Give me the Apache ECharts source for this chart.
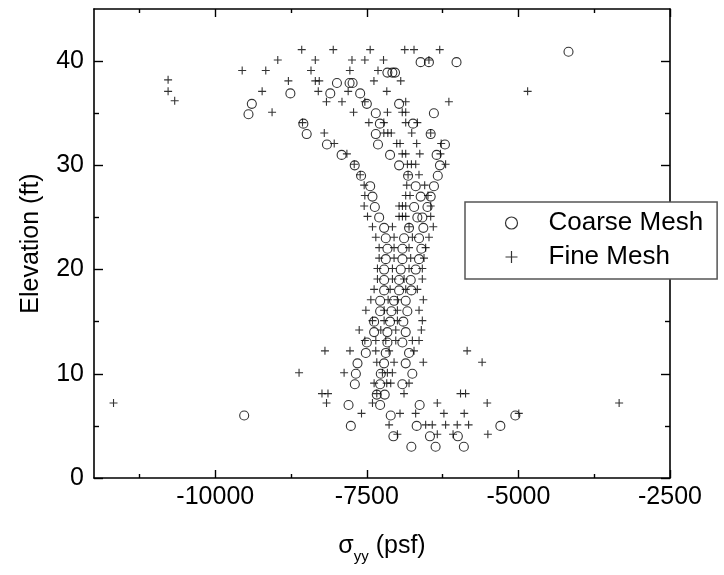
<!DOCTYPE html>
<html><head><meta charset="utf-8">
<script src="https://cdn.jsdelivr.net/npm/echarts@6/dist/echarts.min.js"></script>
<style>html,body{margin:0;padding:0;background:#fff}#c{width:724px;height:575px}</style>
</head><body><div id="c"></div>
<script>
// ---- tick values ----
const xMajorTicks = [-10000, -7500, -5000, -2500];
const xMinorTicks = [-11250, -8750, -6250, -3750];
const yMajorTicks = [0, 10, 20, 30, 40];
const yMinorTicks = [5, 15, 25, 35];

// ---- Coarse Mesh (stress psf, elevation ft) ----
const coarseStress = [
  -4174,
  -6613, -6476, -6021,
  -7161, -7079, -7035,
  -7993, -7785, -7735,
  -8761, -8103, -7610,
  -9397, -7500, -6968,
  -9452, -7352, -6394,
  -8547, -7285, -6739,
  -8492, -7352, -6447,
  -8158, -7316, -6212,
  -7916, -7117, -6349,
  -7700, -6968, -6294,
  -7595, -6820, -6330,
  -7445, -6694, -6393,
  -7407, -6612, -6447,
  -7368, -6720, -6500,
  -7297, -6667, -6585,
  -7215, -6804, -6568,
  -7188, -6886, -6639,
  -7160, -6913, -6601,
  -7188, -6913, -6639,
  -7215, -6941, -6694,
  -7215, -6968, -6776,
  -7215, -6968, -6765,
  -7281, -7051, -6859,
  -7281, -7095, -6832,
  -7380, -7117, -6898,
  -7380, -7161, -6859,
  -7500, -7161, -6914,
  -7517, -7188, -6804,
  -7654, -7216, -6859,
  -7681, -7270, -6750,
  -7698, -7281, -6914,
  -7336, -7205,
  -7802, -7281, -6629,
  -9523, -7106, -5051,
  -7764, -6678, -5298,
  -7062, -6459, -5999,
  -6766, -6366, -5900
];
const coarseElev = [
  40.9,
  39.9, 39.9, 39.9,
  38.9, 38.9, 38.9,
  37.9, 37.9, 37.9,
  36.9, 36.9, 36.9,
  35.9, 35.9, 35.9,
  34.9, 35.0, 35.0,
  34, 34, 34,
  33, 33, 33,
  32, 32, 32,
  31, 31, 31,
  30, 30, 30,
  29, 29, 29,
  28, 28, 28,
  27, 27, 27,
  26, 26, 26,
  25, 25, 25,
  24, 24, 24,
  23, 23, 23,
  22, 22, 22,
  21, 21, 21,
  20, 20, 20,
  19, 19, 19,
  18, 18, 18,
  17, 17, 17,
  16, 16, 16,
  15, 15, 15,
  14, 14, 14,
  13, 13, 13,
  12, 12, 12,
  11, 11, 11,
  10, 10, 10,
  9, 9, 9,
  8, 8,
  7, 7, 7,
  6, 6, 6,
  5, 5, 5,
  4, 4, 4,
  3, 3, 3
];

// ---- Fine Mesh (stress psf, elevation ft) ----
const fineStress = [
  -8574, -8054, -7445, -6875, -6722, -6298,
  -8969, -8350, -7745, -7533, -7225, -6476,
  -9556, -9167, -8421, -7780, -7316,
  -10778, -8794, -8350, -8285, -7383, -6941,
  -10778, -9227, -8301, -7808, -7171, -4848,
  -10669, -8166, -7910, -7533, -6859, -6147,
  -9063, -7719, -7160, -6916, -6859,
  -8561, -7467, -7220, -6859, -6667,
  -8202, -7220, -7154, -7097, -6760, -6447,
  -8038, -7007, -6952, -6678, -6274,
  -7829, -6916, -6859, -6627, -6286,
  -7708, -6831, -6765, -6694, -6201,
  -7610, -6820, -6640,
  -7544, -6842, -6546,
  -7533, -6859, -6788, -6492,
  -7544, -6968, -6913, -6859, -6447,
  -7489, -6968, -6913, -6859, -6447,
  -7407, -7078, -6804, -6404,
  -7352, -7051, -6749, -6475,
  -7297, -7051, -6804, -6530,
  -7297, -7051, -6777, -6557,
  -7325, -7078, -6804, -6585,
  -7325, -7078, -6886, -6585,
  -7380, -7116, -6859, -6667,
  -7434, -7149, -6996, -6568,
  -7516, -7215, -6996, -6639,
  -7407, -7215, -6996, -6585,
  -7626, -7270, -7023, -6601,
  -7533, -7352, -7188, -7023, -6749, -6639,
  -8191, -7778, -7353, -7133, -6722, -5846,
  -7336, -7051, -6569, -5599,
  -8618, -7875, -7243, -7161, -7079,
  -7380, -7172, -7106, -6804,
  -8240, -8141, -7336, -6887, -5955, -5872,
  -11678, -8165, -7407, -6338, -5515, -3339,
  -7588, -6953, -6695, -6229, -5894, -4994,
  -7133, -6530, -6421, -6201, -6009, -5822,
  -6996, -6338, -6078, -5504
];
const fineElev = [
  41.1, 41.1, 41.1, 41.1, 41.1, 41.1,
  40.1, 40.1, 40.1, 40.1, 40.1, 40.1,
  39.1, 39.1, 39.1, 39.1, 39.1,
  38.2, 38.1, 38.1, 38.1, 38.1, 38.1,
  37.1, 37.1, 37.1, 37.1, 37.1, 37.1,
  36.2, 36.1, 36.1, 36.1, 36.1, 36.1,
  35.1, 35.1, 35.1, 35.1, 35.1,
  34.1, 34.1, 34.1, 34.1, 34.1,
  33.1, 33.1, 33.1, 33.1, 33.1, 33.1,
  32.1, 32.1, 32.1, 32.1, 32.1,
  31.1, 31.1, 31.1, 31.1, 31.1,
  30.1, 30.1, 30.1, 30.1, 30.1,
  29.1, 29.1, 29.1,
  28.1, 28.1, 28.1,
  27.1, 27.1, 27.1, 27.1,
  26.1, 26.1, 26.1, 26.1, 26.1,
  25.1, 25.1, 25.1, 25.1, 25.1,
  24.1, 24.1, 24.1, 24.1,
  23.1, 23.1, 23.1, 23.1,
  22.1, 22.1, 22.1, 22.1,
  21.1, 21.1, 21.1, 21.1,
  20.1, 20.1, 20.1, 20.1,
  19.1, 19.1, 19.1, 19.1,
  18.1, 18.1, 18.1, 18.1,
  17.1, 17.1, 17.1, 17.1,
  16.1, 16.1, 16.1, 16.1,
  15.1, 15.1, 15.1, 15.1,
  14.2, 14.2, 14.2, 14.2,
  13.2, 13.2, 13.2, 13.2, 13.2, 13.2,
  12.2, 12.2, 12.2, 12.2, 12.2, 12.2,
  11.1, 11.1, 11.1, 11.1,
  10.1, 10.1, 10.1, 10.1, 10.1,
  9.1, 9.1, 9.1, 9.1,
  8.1, 8.1, 8.1, 8.1, 8.1, 8.1,
  7.2, 7.2, 7.2, 7.2, 7.2, 7.2,
  6.2, 6.2, 6.2, 6.2, 6.2, 6.2,
  5.1, 5.1, 5.1, 5.1, 5.1, 5.1,
  4.2, 4.2, 4.2, 4.2
];

const coarseData = coarseStress.map((v, i) => [v, coarseElev[i]]);
const fineData = fineStress.map((v, i) => [v, fineElev[i]]);

const FONT = 'Liberation Sans, Arial, sans-serif';
const X_MIN = -12000, X_MAX = -2500, Y_MIN = 0, Y_MAX = 45;
const axisColor = '#000';
const plainNum = v => String(v);

function xAxisDef(position, ticks, len, showLine, showLabel) {
  return {
    type: 'value', min: X_MIN, max: X_MAX, position: position,
    axisLine: { show: showLine, onZero: false, lineStyle: { color: axisColor, width: 1.6 } },
    axisTick: { show: true, inside: true, length: len, customValues: ticks, lineStyle: { color: axisColor, width: 1.4 } },
    axisLabel: { show: showLabel, customValues: ticks, formatter: plainNum, color: '#000', fontFamily: FONT, fontSize: 25, margin: 7 },
    splitLine: { show: false }
  };
}
function yAxisDef(position, ticks, len, showLine, showLabel) {
  return {
    type: 'value', min: Y_MIN, max: Y_MAX, position: position,
    axisLine: { show: showLine, onZero: false, lineStyle: { color: axisColor, width: 1.6 } },
    axisTick: { show: true, inside: true, length: len, customValues: ticks, lineStyle: { color: axisColor, width: 1.4 } },
    axisLabel: { show: showLabel, customValues: ticks, formatter: plainNum, color: '#000', fontFamily: FONT, fontSize: 25, margin: 10 },
    splitLine: { show: false }
  };
}

const xMain = xAxisDef('bottom', xMajorTicks, 8, true, true);
xMain.name = '{a|σ}{b|yy}{a| (psf)}';
xMain.nameLocation = 'middle';
xMain.nameGap = 56;
xMain.nameTextStyle = {
  color: '#000', fontFamily: FONT,
  rich: {
    a: { fontSize: 25, fontFamily: FONT, color: '#000', padding: [0, 0, 5, 0] },
    b: { fontSize: 15, fontFamily: FONT, color: '#000', verticalAlign: 'bottom' }
  }
};
const yMain = yAxisDef('left', yMajorTicks, 9, true, true);
yMain.name = 'Elevation (ft)';
yMain.nameLocation = 'middle';
yMain.nameGap = 50;
yMain.nameTextStyle = { color: '#000', fontFamily: FONT, fontSize: 25 };

const chart = echarts.init(document.getElementById('c'), null, { renderer: 'canvas' });
chart.setOption({
  animation: false,
  backgroundColor: '#fff',
  grid: { left: 94, right: 54, top: 9, bottom: 97, containLabel: false },
  xAxis: [
    xMain,
    xAxisDef('bottom', xMinorTicks, 4, false, false),
    xAxisDef('top', xMajorTicks, 8, true, false),
    xAxisDef('top', xMinorTicks, 4, false, false)
  ],
  yAxis: [
    yMain,
    yAxisDef('left', yMinorTicks, 5, false, false),
    yAxisDef('right', yMajorTicks, 9, true, false),
    yAxisDef('right', yMinorTicks, 5, false, false)
  ],
  legend: {
    orient: 'vertical', left: 465, top: 202,
    padding: [8, 14, 9, 38], itemGap: 8, itemWidth: 12, itemHeight: 12,
    borderColor: '#555', borderWidth: 1.5, backgroundColor: '#fff', z: 20,
    selectedMode: false,
    itemStyle: { borderWidth: 1.2 },
    textStyle: { fontFamily: FONT, fontSize: 26, color: '#000', padding: [0, 0, 0, 26], lineHeight: 26 },
    data: ['Coarse Mesh', 'Fine Mesh']
  },
  series: [
    {
      name: 'Coarse Mesh', type: 'scatter', xAxisIndex: 0, yAxisIndex: 0,
      symbol: 'circle', symbolSize: 9,
      itemStyle: { color: 'rgba(255,255,255,0)', borderColor: '#000', borderWidth: 1.1 },
      data: coarseData
    },
    {
      name: 'Fine Mesh', type: 'scatter', xAxisIndex: 0, yAxisIndex: 0,
      symbol: 'path://M0,5L10,5M5,0L5,10', symbolSize: 8,
      itemStyle: { color: 'none', borderColor: '#000', borderWidth: 1.1 },
      data: fineData
    }
  ]
});
</script>
</body></html>
